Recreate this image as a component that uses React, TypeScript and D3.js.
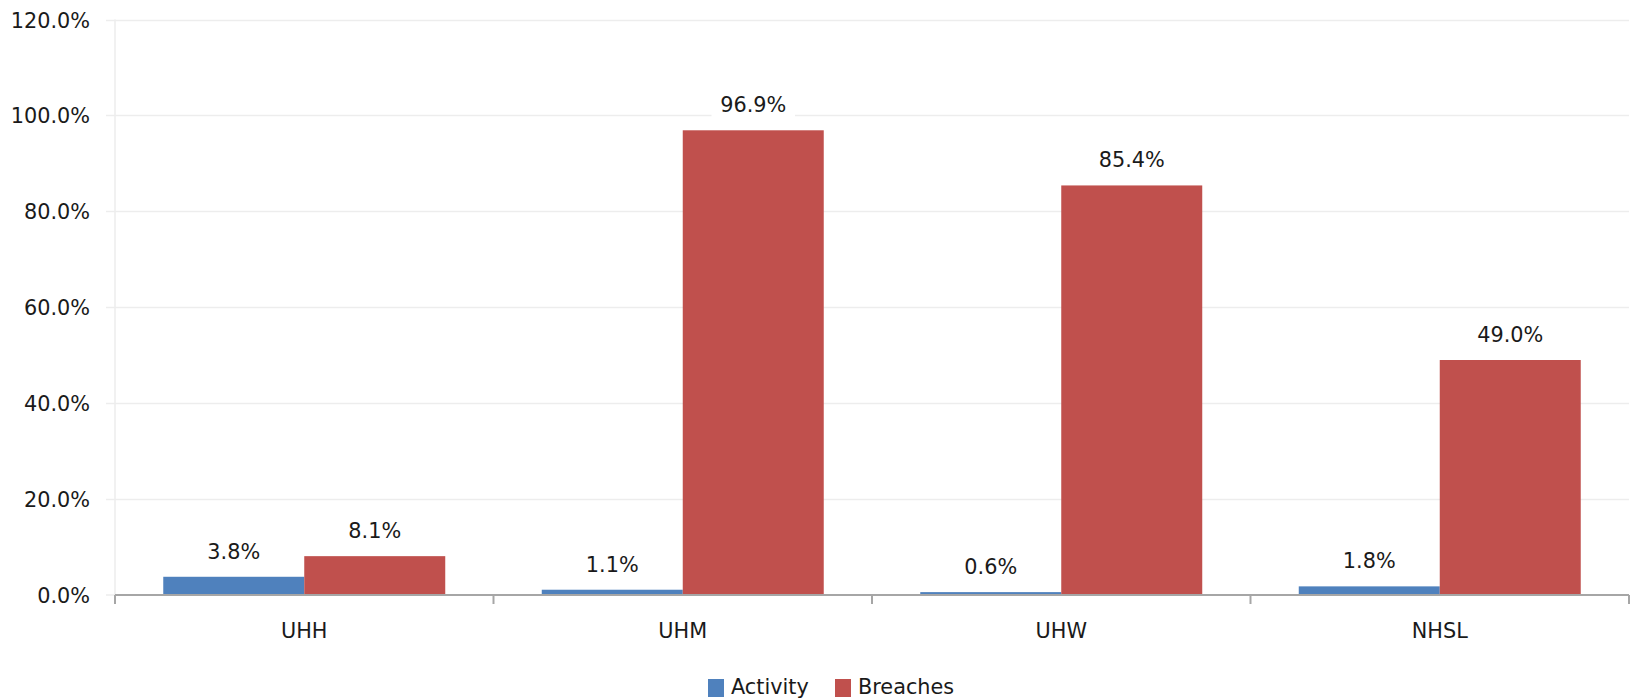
import React from "react";
import * as d3 from "d3";

const categories = ["UHH", "UHM", "UHW", "NHSL"];
const seriesNames = ["Activity", "Breaches"];
const activity = [3.8, 1.1, 0.6, 1.8];
const breaches = [8.1, 96.9, 85.4, 49.0];
const yTicks = [0, 20, 40, 60, 80, 100, 120];
const colors = ["#4F81BD", "#C0504D"];

const W = 1630;
const H = 698;
const FONT = "'DejaVu Sans', Verdana, sans-serif";
const FS = 20.8;

export default function App() {
  const left = 115;
  const right = 1629;
  const top = 19.5;
  const bottom = 595;

  const y = d3.scaleLinear().domain([0, 120]).range([bottom, top]);
  const x0 = d3.scaleBand<string>().domain(categories).range([left, right]).paddingInner(0).paddingOuter(0);
  const bw = x0.bandwidth();
  const x1 = d3
    .scaleBand<string>()
    .domain(seriesNames)
    .range([bw * 0.1275, bw * 0.8725])
    .paddingInner(0)
    .paddingOuter(0);

  const series = [activity, breaches];
  const fmt = (v: number) => v.toFixed(1) + "%";

  return (
    <svg
      width={W}
      height={H}
      style={{ position: "absolute", left: 0, top: 0, background: "#fff" }}
      fontFamily={FONT}
    >
      {/* gridlines */}
      {yTicks.map((t) => (
        <g key={t}>
          {t !== 0 && (
            <line x1={left - 9} x2={right} y1={Math.round(y(t)) + 0.5} y2={Math.round(y(t)) + 0.5} stroke="#EDEDED" strokeWidth={1.5} />
          )}
          {t === 0 && <line x1={left - 9} x2={left} y1={y(t)} y2={y(t)} stroke="#EDEDED" strokeWidth={1.5} />}
          <text x={90} y={y(t) + 1} textAnchor="end" dominantBaseline="central" fontSize={FS} fill="#1a1a1a">
            {fmt(t)}
          </text>
        </g>
      ))}
      {/* left axis */}
      <line x1={left} x2={left} y1={top} y2={bottom} stroke="#EDEDED" strokeWidth={1.5} />

      {/* bars */}
      {categories.map((c, i) => (
        <g key={c} transform={`translate(${x0(c)},0)`}>
          {seriesNames.map((s, j) => (
            <rect
              key={s}
              x={x1(s)}
              y={y(series[j][i])}
              width={x1.bandwidth()}
              height={bottom - y(series[j][i])}
              fill={colors[j]}
            />
          ))}
        </g>
      ))}

      {/* data labels */}
      {categories.map((c, i) =>
        seriesNames.map((s, j) => {
          const cx = (x0(c) as number) + (x1(s) as number) + x1.bandwidth() / 2;
          const cy = y(series[j][i]) - 25;
          const label = fmt(series[j][i]);
          const tw = label.length * 13.5;
          return (
            <g key={c + s}>
              <rect x={cx - tw / 2 - 8} y={cy - 12} width={tw + 16} height={24} fill="#fff" />
              <text x={cx} y={cy} textAnchor="middle" dominantBaseline="central" fontSize={FS} fill="#1a1a1a">
                {label}
              </text>
            </g>
          );
        })
      )}

      {/* x axis */}
      <line x1={left} x2={right} y1={bottom} y2={bottom} stroke="#A6A6A6" strokeWidth={2} />
      {[...categories.map((c) => x0(c) as number), right].map((xv, k) => (
        <line key={k} x1={xv} x2={xv} y1={bottom} y2={bottom + 9} stroke="#A6A6A6" strokeWidth={2} />
      ))}
      {categories.map((c) => (
        <text
          key={c}
          x={(x0(c) as number) + bw / 2}
          y={631}
          textAnchor="middle"
          dominantBaseline="central"
          fontSize={FS}
          fill="#1a1a1a"
        >
          {c}
        </text>
      ))}

      {/* legend */}
      {seriesNames.map((s, j) => {
        const lx = j === 0 ? 708 : 835;
        return (
          <g key={s}>
            <rect x={lx} y={679} width={16} height={18} fill={colors[j]} />
            <text x={lx + 23} y={694} fontSize={FS} fill="#1a1a1a">
              {s}
            </text>
          </g>
        );
      })}
    </svg>
  );
}
